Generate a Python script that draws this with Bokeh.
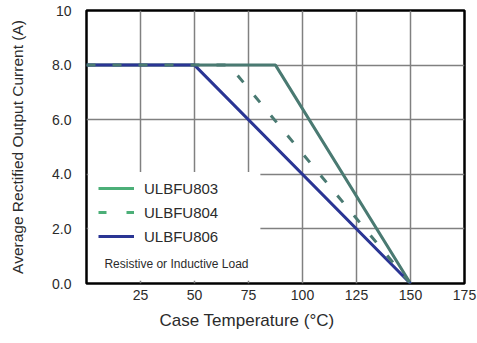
from bokeh.plotting import figure
from bokeh.models import (Range1d, FixedTicker, Legend, LegendItem, BoxAnnotation,
                          Label, Title)
from bokeh.embed import file_html
from bokeh.resources import INLINE

# ---- data ----
temp_803 = [0, 87.5, 150]
curr_803 = [8.0, 8.0, 0.0]
temp_804 = [0, 66, 150]
curr_804 = [8.0, 8.0, 0.0]
temp_806 = [0, 50, 150]
curr_806 = [8.0, 8.0, 0.0]
series_names = ["ULBFU803", "ULBFU804", "ULBFU806"]
x_ticks = [25, 50, 75, 100, 125, 150, 175]
y_ticks = [0, 2, 4, 6, 8, 10]
y_tick_labels = ["0.0", "2.0", "4.0", "6.0", "8.0", "10"]
note_text = "Resistive or Inductive Load"
x_title = "Case Temperature (°C)"
y_title = "Average Rectified Output Current (A)"

FONT = "Liberation Sans"
TEAL = "#4a7a72"
BLUE = "#2a3594"
LEG_GREEN = "#4caf78"
TXT = "#2b2b2b"

p = figure(width=477, height=343, output_backend="svg", toolbar_location=None,
           x_range=Range1d(0, 175), y_range=Range1d(0, 10),
           min_border_left=86, min_border_right=13, min_border_top=10,
           min_border_bottom=60)
p.background_fill_color = "white"
p.border_fill_color = "white"
p.outline_line_color = "black"
p.outline_line_width = 2.5

p.xaxis.ticker = FixedTicker(ticks=x_ticks)
p.yaxis.ticker = FixedTicker(ticks=y_ticks)
p.yaxis.major_label_overrides = {t: l for t, l in zip(y_ticks, y_tick_labels)}
for ax in (p.xaxis[0], p.yaxis[0]):
    ax.axis_line_color = None
    ax.major_tick_line_color = None
    ax.minor_tick_line_color = None
    ax.major_tick_out = 0
    ax.major_tick_in = 0
    ax.major_label_text_font = FONT
    ax.major_label_text_font_size = "14px"
    ax.major_label_text_color = TXT
    ax.axis_label_text_font = FONT
    ax.axis_label_text_font_style = "normal"
    ax.axis_label_text_color = TXT
p.xaxis.major_label_standoff = 6
p.yaxis.major_label_standoff = 15
p.yaxis.axis_label = y_title
p.yaxis.axis_label_text_font_size = "15.5px"
p.yaxis.axis_label_standoff = 23

p.add_layout(Title(text=x_title, align="left", offset=73, standoff=13,
                   text_font=FONT, text_font_size="17px",
                   text_font_style="normal", text_color=TXT), "below")

p.xgrid.grid_line_color = "#808080"
p.ygrid.grid_line_color = "#808080"
p.xgrid.grid_line_width = 1.5
p.ygrid.grid_line_width = 1.5

# curves
p.line(temp_803, curr_803, line_color=TEAL, line_width=3)
p.line(temp_806, curr_806, line_color=BLUE, line_width=3)
p.line(temp_804, curr_804, line_color=TEAL, line_width=3, line_dash="9 17")

# white legend area
p.add_layout(BoxAnnotation(left=0.8, right=80.5, bottom=0.1, top=4.08,
                           fill_color="white", fill_alpha=1.0, line_color=None))

# legend proxies (hidden renderers, shown only in legend)
r1 = p.line(temp_803, curr_803, line_color=LEG_GREEN, line_width=3, visible=False)
r2 = p.line(temp_804, curr_804, line_color=LEG_GREEN, line_width=3,
            line_dash="8 20", visible=False)
r3 = p.line(temp_806, curr_806, line_color=BLUE, line_width=3, visible=False)
legend = Legend(items=[LegendItem(label=series_names[0], renderers=[r1]),
                       LegendItem(label=series_names[1], renderers=[r2]),
                       LegendItem(label=series_names[2], renderers=[r3])],
                location=(12, 37), orientation="vertical",
                background_fill_alpha=0, border_line_color=None,
                inactive_fill_alpha=0,
                padding=0, margin=0, spacing=4,
                glyph_width=36, glyph_height=20, label_height=20,
                label_standoff=10, label_text_font=FONT,
                label_text_font_size="15px", label_text_color=TXT)
p.add_layout(legend)

p.add_layout(Label(x=8.3, y=0.73, text=note_text, text_font=FONT,
                   text_font_size="12px", text_color=TXT,
                   text_baseline="middle"))

open("out.html", "w").write(file_html(p, INLINE))
